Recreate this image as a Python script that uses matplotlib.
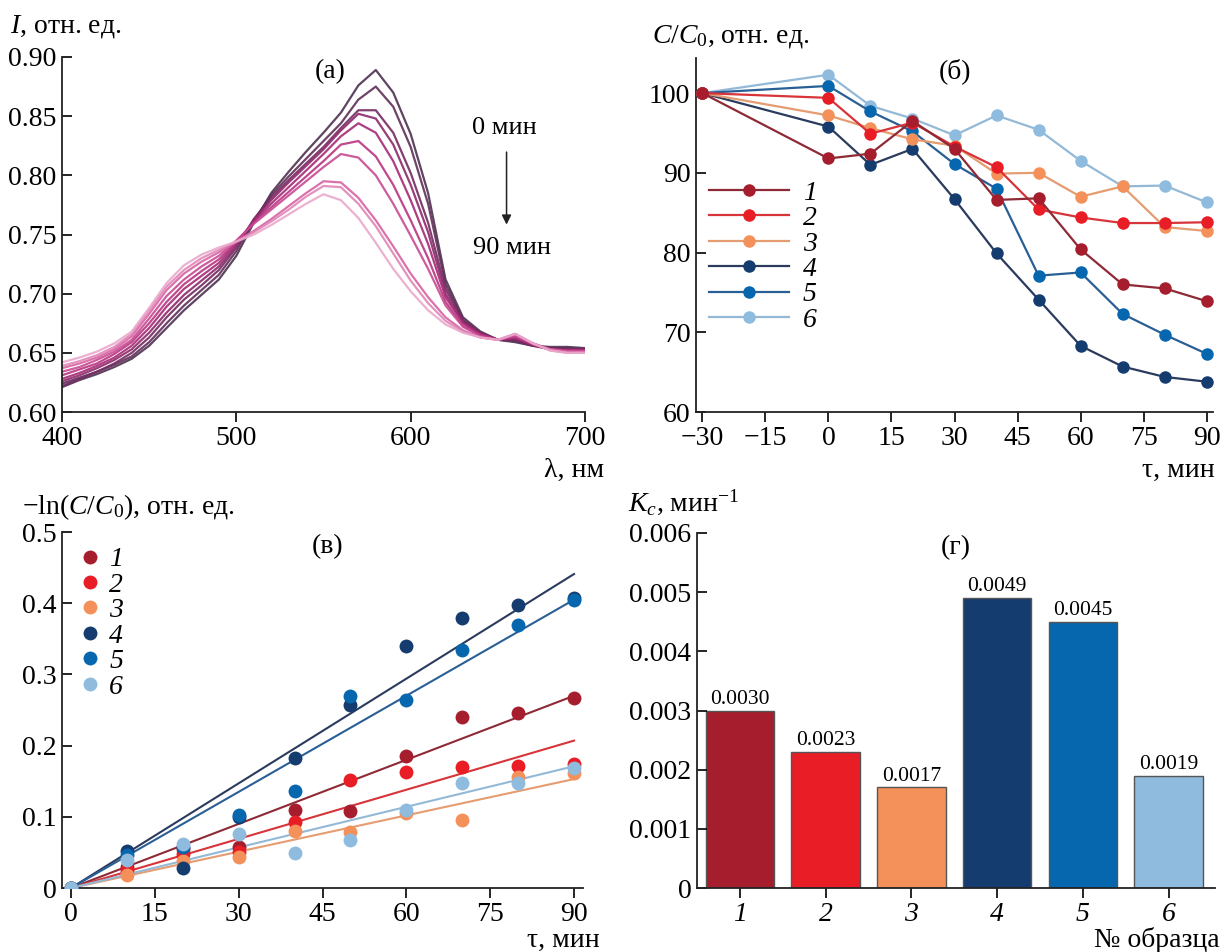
import numpy as np
import matplotlib
matplotlib.use("Agg")
import matplotlib.pyplot as plt
from matplotlib.colors import LinearSegmentedColormap

plt.rcParams['font.family'] = ['Liberation Serif', 'DejaVu Serif']
plt.rcParams['mathtext.fontset'] = 'custom'
plt.rcParams['mathtext.rm'] = 'Liberation Serif'
plt.rcParams['mathtext.it'] = 'Liberation Serif:italic'
plt.rcParams['axes.unicode_minus'] = True

# ---------------- data ----------------
# (a) absorption spectra, 0..90 min
wavelength = [400, 410, 420, 430, 440, 450, 460, 470, 480, 490, 500, 510, 520, 530, 540,
              550, 560, 570, 580, 590, 600, 610, 620, 630, 640, 650, 660, 670, 680, 690, 700]
spec_0 = [.621, .627, .632, .638, .645, .656, .671, .686, .699, .712, .732, .760, .785, .803, .820,
          .836, .853, .876, .889, .870, .835, .785, .712, .680, .668, .661, .659, .656, .655, .655, .654]
spec_10 = [.624, .629, .634, .640, .647, .659, .675, .690, .703, .716, .736, .762, .783, .799, .814,
           .829, .844, .864, .875, .858, .824, .776, .708, .678, .667, .661, .660, .656, .654, .654, .653]
spec_20 = [.622, .628, .634, .641, .650, .663, .680, .695, .707, .720, .739, .763, .781, .796, .810,
           .824, .840, .855, .855, .836, .802, .760, .704, .677, .667, .661, .661, .656, .653, .653, .653]
spec_30 = [.626, .631, .637, .644, .653, .667, .684, .699, .711, .723, .741, .762, .779, .794, .808,
           .822, .838, .852, .848, .826, .792, .752, .700, .676, .666, .661, .662, .657, .653, .652, .652]
spec_40 = [.628, .633, .639, .646, .656, .671, .689, .704, .715, .726, .743, .761, .776, .790, .804,
           .818, .833, .844, .836, .812, .779, .742, .697, .675, .666, .661, .663, .657, .653, .652, .652]
spec_50 = [.631, .636, .641, .649, .659, .675, .693, .708, .719, .729, .744, .760, .773, .786, .799,
           .812, .826, .829, .816, .792, .762, .730, .693, .673, .665, .661, .664, .657, .653, .652, .652]
spec_60 = [.634, .638, .644, .651, .661, .679, .698, .712, .723, .732, .745, .759, .771, .783, .795,
           .807, .818, .815, .800, .776, .749, .721, .690, .672, .664, .661, .664, .658, .653, .651, .651]
spec_70 = [.637, .641, .646, .653, .664, .683, .703, .717, .727, .735, .744, .753, .763, .774, .785,
           .795, .794, .781, .762, .740, .717, .697, .680, .669, .663, .661, .666, .658, .653, .651, .651]
spec_80 = [.639, .643, .648, .655, .666, .686, .706, .720, .730, .737, .744, .752, .761, .771, .782,
           .791, .790, .776, .757, .734, .711, .692, .677, .668, .663, .661, .666, .658, .652, .650, .650]
spec_90 = [.642, .646, .651, .658, .668, .688, .709, .724, .733, .739, .744, .750, .758, .767, .776,
           .784, .779, .764, .743, .721, .702, .686, .674, .667, .663, .661, .666, .658, .652, .650, .650]
spectra = [spec_0, spec_10, spec_20, spec_30, spec_40, spec_50, spec_60, spec_70, spec_80, spec_90]

# (b) C/C0 vs time
tau_b = [-30, 0, 10, 20, 30, 40, 50, 60, 70, 80, 90]
cc_1 = [100, 91.8, 92.4, 96.5, 93.0, 86.6, 86.8, 80.4, 76.0, 75.5, 73.9]
cc_2 = [100, 99.4, 94.9, 96.3, 93.3, 90.7, 85.4, 84.4, 83.7, 83.7, 83.8]
cc_3 = [100, 97.2, 95.6, 94.2, 93.4, 89.9, 90.0, 87.0, 88.3, 83.2, 82.7]
cc_4 = [100, 95.8, 91.0, 93.0, 86.7, 79.9, 74.1, 68.3, 65.7, 64.4, 63.8]
cc_5 = [100, 100.9, 97.7, 95.2, 91.1, 88.0, 77.1, 77.5, 72.3, 69.7, 67.3]
cc_6 = [100, 102.3, 98.4, 96.8, 94.7, 97.2, 95.4, 91.5, 88.3, 88.4, 86.3]
cc_series = [cc_1, cc_2, cc_3, cc_4, cc_5, cc_6]

# (c) -ln(C/C0) vs time
tau_c = [0, 10, 20, 30, 40, 50, 60, 70, 80, 90]
ln_1 = [0, 0.030, 0.055, 0.057, 0.109, 0.108, 0.185, 0.240, 0.246, 0.267]
ln_2 = [0, 0.025, 0.048, 0.050, 0.093, 0.151, 0.163, 0.170, 0.172, 0.174]
ln_3 = [0, 0.018, 0.038, 0.044, 0.080, 0.079, 0.105, 0.096, 0.156, 0.161]
ln_4 = [0, 0.052, 0.028, 0.100, 0.183, 0.257, 0.340, 0.379, 0.398, 0.407]
ln_5 = [0, 0.046, 0.058, 0.102, 0.136, 0.270, 0.264, 0.334, 0.369, 0.405]
ln_6 = [0, 0.039, 0.062, 0.076, 0.049, 0.068, 0.110, 0.147, 0.147, 0.168]
ln_series = [ln_1, ln_2, ln_3, ln_4, ln_5, ln_6]

# (d) rate constants
samples = ['1', '2', '3', '4', '5', '6']
kc = [0.0030, 0.0023, 0.0017, 0.0049, 0.0045, 0.0019]

colors = ['#a61e2d', '#e81d25', '#f4915a', '#143c6e', '#0767ae', '#8fbcde']
line_colors = ['#8e2a35', '#d8343a', '#e59c70', '#2a3b5e', '#2a5f96', '#93b9d6']

# ---------------- figure ----------------
W, H = 1223, 952
fig = plt.figure(figsize=(W / 100, H / 100), dpi=100)
FS = 20

def ax_at(x0, y0, x1, y1):
    return fig.add_axes([x0 / W, 1 - y1 / H, (x1 - x0) / W, (y1 - y0) / H])

def style(ax):
    for s in ('top', 'right'):
        ax.spines[s].set_visible(False)
    for s in ('left', 'bottom'):
        ax.spines[s].set_linewidth(1.3)
        ax.spines[s].set_color('#222222')
    ax.tick_params(axis='y', direction='in', length=7, width=1.2, labelsize=FS, pad=4)
    ax.tick_params(axis='x', direction='out', length=7, width=1.2, labelsize=FS, pad=3)

# (a)
axa = ax_at(62, 57, 585, 412)
style(axa)
cmap = LinearSegmentedColormap.from_list('sp', ['#4d3150', '#7b2a63', '#b12a7a', '#d45a9e', '#eaa8cb'])
for i, sp in enumerate(spectra):
    axa.plot(wavelength, sp, color=cmap(i / (len(spectra) - 1)), lw=1.6, alpha=0.9)
axa.set_xlim(400, 700)
axa.set_ylim(0.60, 0.90)
axa.set_xticks([400, 500, 600, 700])
axa.set_yticks([0.60, 0.65, 0.70, 0.75, 0.80, 0.85, 0.90])
axa.set_yticklabels(['0.60', '0.65', '0.70', '0.75', '0.80', '0.85', '0.90'])
axa.text(0.512, 0.958, '(а)', transform=axa.transAxes, ha='center', va='center', fontsize=FS)
axa.text(654, 0.840, '0 мин', ha='center', va='center', fontsize=FS - 1)
axa.text(658, 0.739, '90 мин', ha='center', va='center', fontsize=FS - 1)
axa.annotate('', xy=(655, 0.756), xytext=(655, 0.822),
             arrowprops=dict(arrowstyle='-|>', color='#222222', lw=1.1, mutation_scale=14))
fig.text(10 / W, 1 - 27 / H, '$I$, отн. ед.', ha='left', va='center', fontsize=FS)
fig.text(604 / W, 1 - 470 / H, 'λ, нм', ha='right', va='center', fontsize=FS)

# (b)
axb = ax_at(696, 58, 1213, 412)
style(axb)
for i, ys in enumerate(cc_series):
    axb.plot(tau_b, ys, color=line_colors[i], lw=1.6, marker='o', ms=9,
             mfc=colors[i], mec=colors[i], mew=0, label=str(i + 1), zorder=3 + (5 - i) * 0.1)
axb.set_xlim(-31.5, 91.5)
axb.set_ylim(60, 104.4)
axb.set_xticks([-30, -15, 0, 15, 30, 45, 60, 75, 90])
axb.set_yticks([60, 70, 80, 90, 100])
axb.text(0.50, 0.962, '(б)', transform=axb.transAxes, ha='center', va='center', fontsize=FS)
leg = axb.legend(loc='upper left', bbox_to_anchor=(0.0, 0.69), frameon=False, fontsize=FS,
                 handlelength=2.9, handletextpad=0.5, labelspacing=0.0, borderaxespad=0.05)
for t in leg.get_texts():
    t.set_fontstyle('italic')
fig.text(652 / W, 1 - 37 / H, '$C/C_0$, отн. ед.', ha='left', va='center', fontsize=FS)
fig.text(1215 / W, 1 - 470 / H, 'τ, мин', ha='right', va='center', fontsize=FS)

# (c)
axc = ax_at(62, 532, 583, 888)
style(axc)
t_fit = np.array([0, 90])
for i, ys in enumerate(ln_series):
    axc.plot(t_fit, kc[i] * t_fit, color=line_colors[i], lw=1.5, zorder=2)
for i, ys in enumerate(ln_series):
    axc.plot(tau_c, ys, ls='none', marker='o', ms=10, mfc=colors[i], mec=colors[i], mew=0,
             label=str(i + 1), zorder=3)
axc.set_xlim(-1.6, 91.6)
axc.set_ylim(0, 0.5)
axc.set_xticks([0, 15, 30, 45, 60, 75, 90])
axc.set_yticks([0, 0.1, 0.2, 0.3, 0.4, 0.5])
axc.set_yticklabels(['0', '0.1', '0.2', '0.3', '0.4', '0.5'])
axc.text(0.51, 0.958, '(в)', transform=axc.transAxes, ha='center', va='center', fontsize=FS)
leg2 = axc.legend(loc='upper left', bbox_to_anchor=(0.0, 1.005), frameon=False, fontsize=FS,
                  handlelength=0.8, handletextpad=0.3, labelspacing=0.0, borderaxespad=0.2)
for t in leg2.get_texts():
    t.set_fontstyle('italic')
fig.text(22 / W, 1 - 507 / H, r'$-\mathrm{ln}(C/C_0)$, отн. ед.', ha='left', va='center', fontsize=FS)
fig.text(600 / W, 1 - 940 / H, 'τ, мин', ha='right', va='center', fontsize=FS)

# (d)
axd = ax_at(697, 533, 1215, 888)
style(axd)
xpos = np.arange(1, len(samples) + 1)
axd.bar(xpos, kc, width=0.8, color=colors, edgecolor='#555555', linewidth=1.0)
for xb, v in zip(xpos, kc):
    axd.text(xb, v + 0.00003, f'{v:.4f}', ha='center', va='bottom', fontsize=15.5)
axd.set_xlim(0.5, 6.54)
axd.set_ylim(0, 0.006)
axd.set_xticks(xpos)
axd.set_xticklabels(samples, fontstyle='italic')
axd.set_yticks([0, 0.001, 0.002, 0.003, 0.004, 0.005, 0.006])
axd.set_yticklabels(['0', '0.001', '0.002', '0.003', '0.004', '0.005', '0.006'])
axd.text(0.5, 0.958, '(г)', transform=axd.transAxes, ha='center', va='center', fontsize=FS)
fig.text(628 / W, 1 - 502 / H, r'$K_c$, мин$^{-1}$', ha='left', va='center', fontsize=FS)
fig.text(1220 / W, 1 - 940 / H, '№ образца', ha='right', va='center', fontsize=FS)

fig.savefig('out.png', dpi=100)
